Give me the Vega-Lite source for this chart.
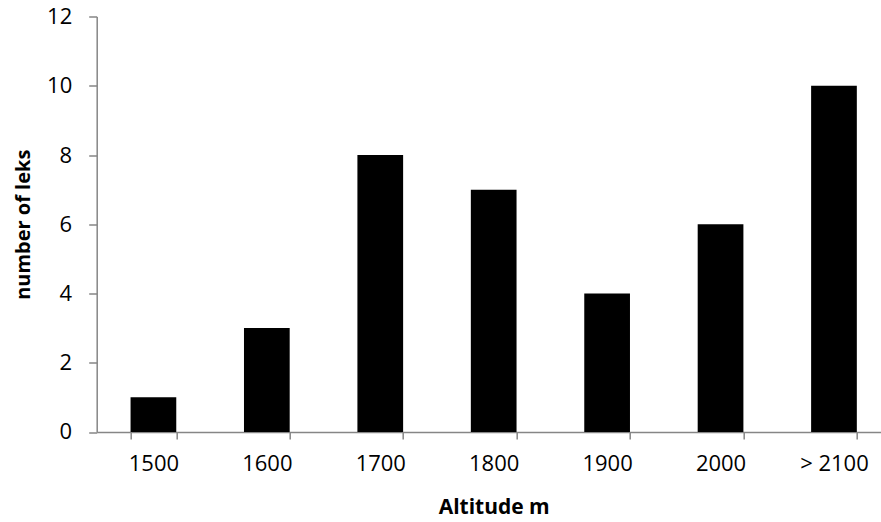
{
  "$schema": "https://vega.github.io/schema/vega-lite/v6.json",
  "width": 784,
  "height": 415.5,
  "autosize": {"type": "none"},
  "padding": {"left": 96.7, "top": 16.5, "right": 0, "bottom": 90},
  "background": "white",
  "config": {"view": {"stroke": null}, "font": "Open Sans"},
  "data": {
    "values": [
      {"altitude": "1500", "leks": 1},
      {"altitude": "1600", "leks": 3},
      {"altitude": "1700", "leks": 8},
      {"altitude": "1800", "leks": 7},
      {"altitude": "1900", "leks": 4},
      {"altitude": "2000", "leks": 6},
      {"altitude": "> 2100", "leks": 10}
    ]
  },
  "mark": {"type": "bar", "color": "black"},
  "encoding": {
    "x": {
      "field": "altitude",
      "type": "ordinal",
      "sort": null,
      "scale": {"range": [0, 794], "paddingInner": 0.597, "paddingOuter": 0.2985},
      "axis": {
        "title": "Altitude m",
        "titleFont": "Open Sans",
        "titleFontSize": 21,
        "titleFontWeight": "bold",
        "titleColor": "black",
        "titlePadding": 22,
        "labelAngle": 0,
        "labelFont": "Open Sans",
        "labelFontSize": 22,
        "labelColor": "black",
        "labelPadding": 15,
        "tickBand": "extent",
        "tickSize": 7,
        "tickColor": "#868686",
        "domainColor": "#868686",
        "tickWidth": 1.5,
        "domainWidth": 1.5
      }
    },
    "y": {
      "field": "leks",
      "type": "quantitative",
      "scale": {"domain": [0, 12], "nice": false},
      "axis": {
        "title": "number of leks",
        "titleFont": "Open Sans",
        "titleFontSize": 20,
        "titleFontWeight": "bold",
        "titleColor": "black",
        "titlePadding": 13,
        "values": [0, 2, 4, 6, 8, 10, 12],
        "labelFont": "Open Sans",
        "labelFontSize": 22,
        "labelColor": "black",
        "labelPadding": 17,
        "tickSize": 8,
        "tickColor": "#868686",
        "domainColor": "#868686",
        "tickWidth": 1.5,
        "domainWidth": 1.5,
        "grid": false
      }
    }
  }
}
